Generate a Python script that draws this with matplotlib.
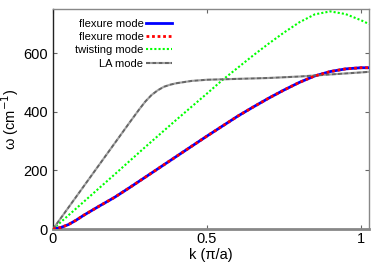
import matplotlib
matplotlib.use("Agg")
import matplotlib.pyplot as plt

plt.rcParams["font.family"] = ["Liberation Sans", "DejaVu Sans"]

# ── data ─────────────────────────────────────────────────────────────────────
k_flex = [0, 0.025, 0.05, 0.075, 0.1, 0.15, 0.2, 0.25, 0.3, 0.35, 0.4, 0.45,
          0.5, 0.55, 0.6, 0.65, 0.7, 0.75, 0.8, 0.85, 0.9, 0.95, 1.0, 1.026]
w_flex = [0, 5, 15, 30, 47, 78, 108, 142, 177, 212, 247, 282,
          317, 351, 385, 416, 446, 474, 500, 522, 537, 546, 550, 550]

k_twist = [0, 0.1, 0.2, 0.3, 0.4, 0.5, 0.55, 0.6, 0.65, 0.7, 0.75, 0.8,
           0.85, 0.9, 0.95, 1.0, 1.026]
w_twist = [0, 93, 186, 280, 372, 462, 508, 550, 592, 632, 670, 705,
           732, 742, 733, 712, 699]

k_la = [0, 0.05, 0.1, 0.15, 0.2, 0.25, 0.28, 0.3, 0.32, 0.34, 0.36, 0.38,
        0.4, 0.45, 0.5, 0.6, 0.7, 0.8, 0.9, 1.0, 1.026]
w_la = [0, 73, 146, 219, 292, 365, 408, 435, 457, 473, 485, 492,
        497, 505, 509, 512, 515, 520, 527, 534, 536]

xticks = [0, 0.5, 1]
xtick_labels = ["0", "0.5", "1"]
yticks = [0, 200, 400, 600]

# ── figure ───────────────────────────────────────────────────────────────────
fig = plt.figure(figsize=(3.82, 2.67), dpi=100)
ax = fig.add_axes([0.1387, 0.1423, 0.966 - 0.1387, 0.966 - 0.1423])

ax.plot(k_flex, w_flex, color="#0000ff", lw=2.0, label="flexure mode", zorder=3)
ax.plot(k_flex, w_flex, color="#ff0000", lw=2.0, ls=(0, (1, 1)),
        label="flexure mode", zorder=4)
ax.plot(k_twist, w_twist, color="#00ff00", lw=1.5, ls=(0, (1, 1)),
        label="twisting mode", zorder=3)
ax.plot(k_la, w_la, color="#666666", lw=1.5, ls=(0, (2, 1)), gapcolor="#a0a0a0",
        label="LA mode", zorder=3)

ax.set_xlim(0, 1.026)
ax.set_ylim(0, 750)
ax.set_xticks(xticks)
ax.set_xticklabels(xtick_labels)
ax.set_yticks(yticks)
ax.tick_params(direction="in", length=3, width=0.8, labelsize=10.5,
               top=True, right=True, color="#666666")
ax.tick_params(axis="x", pad=2.5)
ax.tick_params(axis="y", pad=3.5)

for side in ["top", "right"]:
    ax.spines[side].set_color("#888888")
    ax.spines[side].set_linewidth(1.0)
ax.spines["left"].set_color("#222222")
ax.spines["left"].set_linewidth(1.0)
ax.spines["bottom"].set_color("#888888")
ax.spines["bottom"].set_linewidth(2.0)

ax.set_xlabel("k (π/a)", fontsize=10.5, labelpad=1)
ax.set_ylabel("ω (cm$^{-1}$)", fontsize=10.5)
ax.yaxis.set_label_coords(-0.10, 0.5)

ax.legend(loc="upper left", bbox_to_anchor=(0.04, 1.0), frameon=False,
          markerfirst=False, fontsize=8, handlelength=2.3, handletextpad=0.25,
          labelspacing=0.3, borderpad=0.35)

fig.savefig("out.png", dpi=100)
